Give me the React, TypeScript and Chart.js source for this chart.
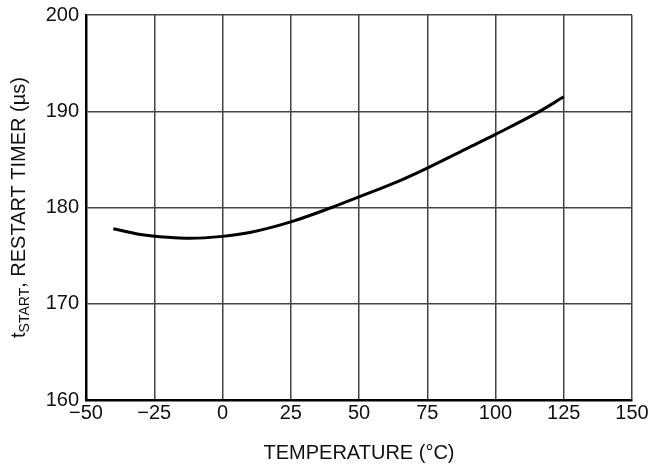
import React, { useEffect, useRef } from "react";
import { Chart, registerables } from "chart.js";

Chart.register(...registerables);

const temperatures = [-40, -30, -20, -12, 0, 10, 25, 40, 50, 65, 75, 90, 100, 115, 125];
const restartTimer = [177.8, 177.2, 176.9, 176.8, 177.0, 177.4, 178.5, 180.0, 181.1, 182.8, 184.1, 186.2, 187.6, 189.8, 191.5];
const xTickValues = [-50, -25, 0, 25, 50, 75, 100, 125, 150];
const yTickValues = [160, 170, 180, 190, 200];
const xTitle = "TEMPERATURE (°C)";
const yTitleParts = ["t", "START", ", RESTART TIMER (µs)"];

const FONT = '"Liberation Sans", Arial, sans-serif';

const fmt = (v: number) => (v < 0 ? "\u2212" + Math.abs(v) : String(v));

const yTitlePlugin = {
  id: "yTitle",
  afterDraw(chart: any) {
    const { ctx, chartArea } = chart;
    const big = "20px " + FONT;
    const small = "14px " + FONT;
    ctx.save();
    ctx.font = big;
    const w0 = ctx.measureText(yTitleParts[0]).width;
    const w2 = ctx.measureText(yTitleParts[2]).width;
    ctx.font = small;
    const w1 = ctx.measureText(yTitleParts[1]).width;
    const total = w0 + w1 + w2;
    const cy = (chartArea.top + chartArea.bottom) / 2;
    ctx.translate(25, cy);
    ctx.rotate(-Math.PI / 2);
    ctx.fillStyle = "#111";
    ctx.textBaseline = "alphabetic";
    ctx.textAlign = "left";
    let x = -total / 2;
    ctx.font = big;
    ctx.fillText(yTitleParts[0], x, 0);
    x += w0;
    ctx.font = small;
    ctx.fillText(yTitleParts[1], x, 4);
    x += w1;
    ctx.font = big;
    ctx.fillText(yTitleParts[2], x, 0);
    ctx.restore();
  },
};

export default function App() {
  const ref = useRef<HTMLCanvasElement>(null);
  useEffect(() => {
    if (!ref.current) return;
    const chart = new Chart(ref.current, {
      type: "line",
      data: {
        datasets: [
          {
            data: temperatures.map((t, i) => ({ x: t, y: restartTimer[i] })),
            borderColor: "#000",
            borderWidth: 3,
            pointRadius: 0,
            cubicInterpolationMode: "monotone",
            fill: false,
          },
        ],
      },
      options: {
        animation: false,
        responsive: false,
        maintainAspectRatio: false,
        layout: { padding: { top: 15, right: 24, left: 0, bottom: 0 } },
        plugins: { legend: { display: false }, tooltip: { enabled: false } },
        scales: {
          x: {
            type: "linear",
            min: -50,
            max: 150,
            afterBuildTicks: (s: any) => {
              s.ticks = xTickValues.map((v) => ({ value: v }));
            },
            afterFit: (s: any) => {
              s.height = 68;
              s.paddingLeft = 0;
              s.paddingRight = 0;
            },
            ticks: {
              callback: (v: any) => fmt(Number(v)),
              color: "#111",
              font: { family: FONT, size: 20 },
              padding: 1,
              maxRotation: 0,
              autoSkip: false,
            },
            grid: { color: "#444", lineWidth: 1.5, drawTicks: false },
            border: { color: "#000", width: 2.5 },
            title: {
              display: true,
              text: xTitle,
              color: "#111",
              font: { family: FONT, size: 20 },
              padding: { top: 4, bottom: 3 },
            },
          },
          y: {
            type: "linear",
            min: 160,
            max: 200,
            afterBuildTicks: (s: any) => {
              s.ticks = yTickValues.map((v) => ({ value: v }));
            },
            afterFit: (s: any) => {
              s.width = 86;
              s.paddingTop = 0;
              s.paddingBottom = 0;
            },
            ticks: {
              callback: (v: any) => fmt(Number(v)),
              color: "#111",
              font: { family: FONT, size: 20 },
              padding: 7,
              autoSkip: false,
            },
            grid: { color: "#444", lineWidth: 1.5, drawTicks: false },
            border: { color: "#000", width: 2.5 },
          },
        },
      },
      plugins: [yTitlePlugin],
    });
    return () => chart.destroy();
  }, []);
  return (
    <div style={{ position: "fixed", left: 0, top: 0, width: 656, height: 468, background: "#fff" }}>
      <canvas ref={ref} width={656} height={468} />
    </div>
  );
}
